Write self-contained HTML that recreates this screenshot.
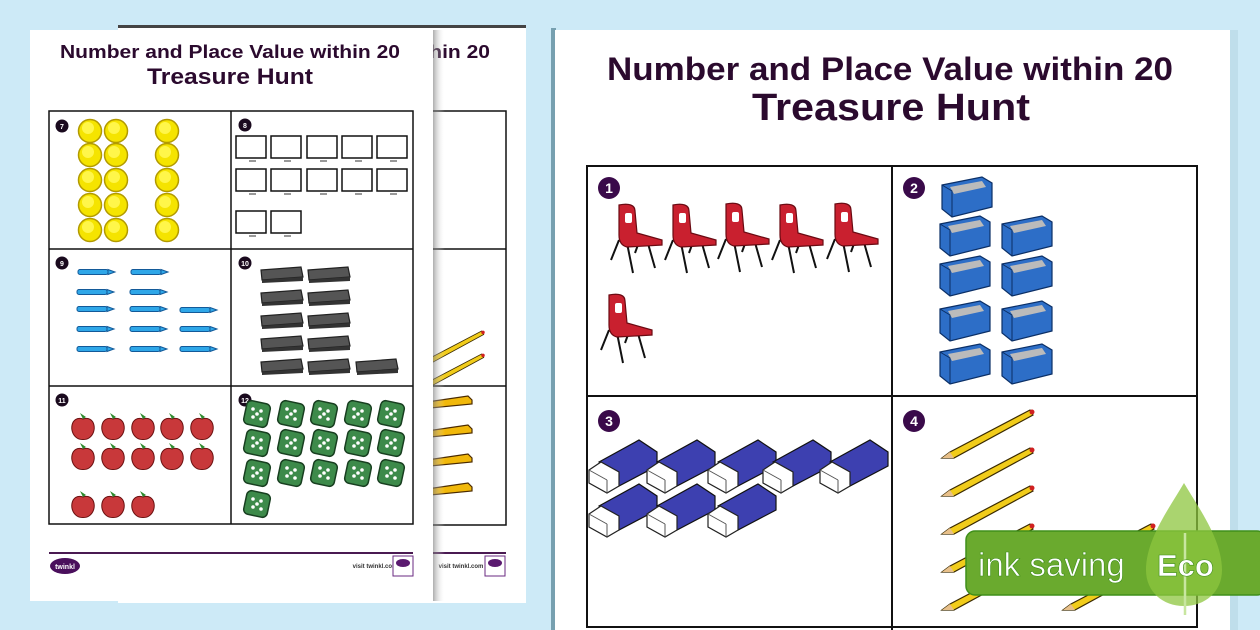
<!DOCTYPE html>
<html><head><meta charset="utf-8"><style>
html,body{margin:0;padding:0;background:#cdeaf7;}
svg{display:block}
text{font-family:"Liberation Sans",sans-serif;font-weight:bold}
</style></head><body>
<svg width="1260" height="630" viewBox="0 0 1260 630" xmlns="http://www.w3.org/2000/svg">
<defs>
<linearGradient id="sh" x1="0" x2="1"><stop offset="0" stop-color="#777" stop-opacity=".6"/><stop offset="1" stop-color="#fff" stop-opacity="0"/></linearGradient>
<g id="coin"><circle r="11.5" fill="#f5e400" stroke="#b29a00" stroke-width="1.5"/><circle cx="-2" cy="-3" r="6" fill="#fff64a"/></g>
<g id="scr"><rect x="0" y="0" width="30" height="22" fill="#fff" stroke="#111" stroke-width="1.5"/><line x1="13" y1="25" x2="20" y2="25" stroke="#333"/></g>
<g id="cray"><rect x="0" y="-2.5" width="30" height="5" rx="2" fill="#2fa7e8" stroke="#135a99" stroke-width="1"/><path d="M30,-2.5 L37,0 L30,2.5Z" fill="#2fa7e8" stroke="#135a99" stroke-width="1"/></g>
<g id="blk"><path d="M0,3 L40,0 L42,10 L1,13Z" fill="#555" stroke="#222" stroke-width="1.2"/><path d="M1,13 L42,10 L42,14 L1,16Z" fill="#333"/></g>
<g id="apl"><path d="M0,-9 C-12,-13 -15,4 -6,10 C-3,12 3,12 6,10 C15,4 12,-13 0,-9Z" fill="#c8383a" stroke="#6b1010" stroke-width="1"/><path d="M0,-9 L-3,-15 L3,-11Z" fill="#2e8b2e"/></g>
<g id="die"><rect x="-12" y="-12" width="24" height="24" rx="5" fill="#3d8a4a" stroke="#183f20" stroke-width="1.5" transform="rotate(12)"/><g fill="#fff"><circle cx="-4" cy="-5" r="1.8"/><circle cx="4" cy="-3" r="1.8"/><circle cx="0" cy="0" r="1.8"/><circle cx="-4" cy="3" r="1.8"/><circle cx="4" cy="5" r="1.8"/></g></g>
<g id="chair" stroke="#111" stroke-width="2" fill="none"><path d="M-6,55 L2,35 M10,38 L16,68 M30,35 L38,63 M22,37 L18,48"/><path d="M2,0 C12,-2 18,0 18,6 L20,28 L45,35 L45,40 L10,42 Q2,40 2,30Z" fill="#c9202f" stroke="#6a0a12" stroke-width="1.2"/><rect x="8" y="8" width="7" height="10" rx="2" fill="#fff" stroke="none"/></g>
<g id="shp"><path d="M0,8 L40,0 L50,6 L50,30 L10,40 L0,32Z" fill="#2d6ec7" stroke="#0b2f66" stroke-width="1.2"/><path d="M8,10 L40,4 L44,10 L12,17Z" fill="#bbb"/><path d="M0,8 L10,14 L10,40" stroke="#0b2f66" fill="none"/></g>
<g id="ers"><path d="M10,22 L50,0 L68,12 L68,26 L30,46 L20,36Z" fill="#3d40b0" stroke="#111" stroke-width="1.2"/><path d="M0,30 L12,22 L30,32 L30,46 L18,53 L0,43Z" fill="#fff" stroke="#222" stroke-width="1.2"/><line x1="0" y1="30" x2="18" y2="40" stroke="#555"/><line x1="18" y1="40" x2="18" y2="53" stroke="#555"/></g>
<g id="pen"><path d="M0,18 L8,12 L88,-30 L91,-25 L12,18Z" fill="#f1cc1a" stroke="#3a2a00" stroke-width="1.2"/><path d="M0,18 L8,12 L12,18Z" fill="#e8c08a"/><circle cx="90" cy="-28" r="2.5" fill="#d02020"/></g>
<g id="pen2"><path d="M0,3 L48,-4 L52,0 L52,4 L0,9Z" fill="#f1b80a" stroke="#4a2a00" stroke-width="1.2"/></g>
</defs>

<!-- back page -->
<rect x="118" y="25" width="408" height="578" fill="#fff"/>
<rect x="118" y="25" width="408" height="3" fill="#444"/>
<text x="320" y="58" font-size="18.5" fill="#2b0a2e" text-anchor="middle" textLength="340" lengthAdjust="spacingAndGlyphs">Number and Place Value within 20</text>
<rect x="120" y="111" width="386" height="414" fill="none" stroke="#111" stroke-width="1.5"/>
<line x1="120" y1="249" x2="506" y2="249" stroke="#111" stroke-width="1.5"/>
<line x1="120" y1="386" x2="506" y2="386" stroke="#111" stroke-width="1.5"/>
<use href="#pen" transform="translate(420,352) scale(.7)"/>
<use href="#pen" transform="translate(420,375) scale(.7)"/>
<use href="#pen2" transform="translate(420,400)"/>
<use href="#pen2" transform="translate(420,429)"/>
<use href="#pen2" transform="translate(420,458)"/>
<use href="#pen2" transform="translate(420,487)"/>
<line x1="120" y1="553" x2="506" y2="553" stroke="#4a1a52" stroke-width="2"/>
<text x="461" y="568" font-size="6" fill="#333" text-anchor="middle">visit twinkl.com</text>
<rect x="485" y="556" width="20" height="20" fill="#fff" stroke="#6a2a80"/><ellipse cx="495" cy="563" rx="7" ry="4" fill="#5b1a70"/>

<!-- front left page -->
<rect x="30" y="30" width="403" height="571" fill="#fff"/>
<rect x="433" y="30" width="12" height="571" fill="url(#sh)"/>
<text x="230" y="58" font-size="18.5" fill="#2b0a2e" text-anchor="middle" textLength="340" lengthAdjust="spacingAndGlyphs">Number and Place Value within 20</text>
<text x="230" y="84" font-size="22" fill="#2b0a2e" text-anchor="middle" textLength="166" lengthAdjust="spacingAndGlyphs">Treasure Hunt</text>
<rect x="49" y="111" width="364" height="413" fill="#fff" stroke="#111" stroke-width="1.5"/>
<line x1="231" y1="111" x2="231" y2="524" stroke="#111" stroke-width="1.5"/>
<line x1="49" y1="249" x2="413" y2="249" stroke="#111" stroke-width="1.5"/>
<line x1="49" y1="386" x2="413" y2="386" stroke="#111" stroke-width="1.5"/>
<g fill="#1a0a1e"><circle cx="62" cy="126" r="6.5"/><circle cx="245" cy="125" r="6.5"/><circle cx="62" cy="263" r="6.5"/><circle cx="245" cy="263" r="6.5"/><circle cx="62" cy="400" r="6.5"/><circle cx="245" cy="400" r="6.5"/></g>
<g font-size="7" fill="#fff" text-anchor="middle"><text x="62" y="129">7</text><text x="245" y="128">8</text><text x="62" y="266">9</text><text x="245" y="266">10</text><text x="62" y="403">11</text><text x="245" y="403">12</text></g>
<g>
<use href="#coin" x="90" y="131"/><use href="#coin" x="116" y="131"/><use href="#coin" x="167" y="131"/>
<use href="#coin" x="90" y="155"/><use href="#coin" x="116" y="155"/><use href="#coin" x="167" y="155"/>
<use href="#coin" x="90" y="180"/><use href="#coin" x="116" y="180"/><use href="#coin" x="167" y="180"/>
<use href="#coin" x="90" y="205"/><use href="#coin" x="116" y="205"/><use href="#coin" x="167" y="205"/>
<use href="#coin" x="90" y="230"/><use href="#coin" x="116" y="230"/><use href="#coin" x="167" y="230"/>
</g>
<g>
<use href="#scr" x="236" y="136"/><use href="#scr" x="271" y="136"/><use href="#scr" x="307" y="136"/><use href="#scr" x="342" y="136"/><use href="#scr" x="377" y="136"/>
<use href="#scr" x="236" y="169"/><use href="#scr" x="271" y="169"/><use href="#scr" x="307" y="169"/><use href="#scr" x="342" y="169"/><use href="#scr" x="377" y="169"/>
<use href="#scr" x="236" y="211"/><use href="#scr" x="271" y="211"/>
</g>
<g>
<use href="#cray" x="78" y="272"/><use href="#cray" x="131" y="272"/>
<use href="#cray" x="77" y="292"/><use href="#cray" x="130" y="292"/>
<use href="#cray" x="77" y="309"/><use href="#cray" x="130" y="309"/><use href="#cray" x="180" y="310"/>
<use href="#cray" x="77" y="329"/><use href="#cray" x="130" y="329"/><use href="#cray" x="180" y="329"/>
<use href="#cray" x="77" y="349"/><use href="#cray" x="130" y="349"/><use href="#cray" x="180" y="349"/>
</g>
<g>
<use href="#blk" x="261" y="267"/><use href="#blk" x="308" y="267"/>
<use href="#blk" x="261" y="290"/><use href="#blk" x="308" y="290"/>
<use href="#blk" x="261" y="313"/><use href="#blk" x="308" y="313"/>
<use href="#blk" x="261" y="336"/><use href="#blk" x="308" y="336"/>
<use href="#blk" x="261" y="359"/><use href="#blk" x="308" y="359"/><use href="#blk" x="356" y="359"/>
</g>
<g>
<use href="#apl" x="83" y="428"/><use href="#apl" x="113" y="428"/><use href="#apl" x="143" y="428"/><use href="#apl" x="172" y="428"/><use href="#apl" x="202" y="428"/>
<use href="#apl" x="83" y="458"/><use href="#apl" x="113" y="458"/><use href="#apl" x="143" y="458"/><use href="#apl" x="172" y="458"/><use href="#apl" x="202" y="458"/>
<use href="#apl" x="83" y="506"/><use href="#apl" x="113" y="506"/><use href="#apl" x="143" y="506"/>
</g>
<g>
<use href="#die" x="257" y="414"/><use href="#die" x="291" y="414"/><use href="#die" x="324" y="414"/><use href="#die" x="358" y="414"/><use href="#die" x="391" y="414"/>
<use href="#die" x="257" y="443"/><use href="#die" x="291" y="443"/><use href="#die" x="324" y="443"/><use href="#die" x="358" y="443"/><use href="#die" x="391" y="443"/>
<use href="#die" x="257" y="473"/><use href="#die" x="291" y="473"/><use href="#die" x="324" y="473"/><use href="#die" x="358" y="473"/><use href="#die" x="391" y="473"/>
<use href="#die" x="257" y="504"/>
</g>
<line x1="49" y1="553" x2="413" y2="553" stroke="#4a1a52" stroke-width="2"/>
<ellipse cx="65" cy="566" rx="15" ry="8" fill="#4a0f5c"/>
<text x="65" y="569" font-size="7" fill="#fff" text-anchor="middle">twinkl</text>
<text x="375" y="568" font-size="6" fill="#333" text-anchor="middle">visit twinkl.com</text>
<rect x="393" y="556" width="20" height="20" fill="#fff" stroke="#6a2a80"/><ellipse cx="403" cy="563" rx="7" ry="4" fill="#5b1a70"/>

<!-- right page -->
<rect x="551" y="28" width="5" height="602" fill="#3d6e80" opacity=".6"/>
<rect x="555" y="30" width="675" height="600" fill="#fff"/>
<rect x="1230" y="30" width="8" height="600" fill="#b9d8e6" opacity=".7"/>
<text x="890" y="80" font-size="32" fill="#2b0a2e" text-anchor="middle" textLength="566" lengthAdjust="spacingAndGlyphs">Number and Place Value within 20</text>
<text x="891" y="120" font-size="38" fill="#2b0a2e" text-anchor="middle" textLength="278" lengthAdjust="spacingAndGlyphs">Treasure Hunt</text>
<rect x="587" y="166" width="610" height="461" fill="none" stroke="#111" stroke-width="2"/>
<line x1="892" y1="166" x2="892" y2="630" stroke="#111" stroke-width="2"/>
<line x1="587" y1="396" x2="1197" y2="396" stroke="#111" stroke-width="2"/>
<g fill="#3a0a4a"><circle cx="609" cy="188" r="11"/><circle cx="914" cy="188" r="11"/><circle cx="609" cy="421" r="11"/><circle cx="914" cy="421" r="11"/></g>
<g font-size="14" fill="#fff" text-anchor="middle"><text x="609" y="193">1</text><text x="914" y="193">2</text><text x="609" y="426">3</text><text x="914" y="426">4</text></g>
<g>
<use href="#chair" x="617" y="205"/><use href="#chair" x="671" y="205"/><use href="#chair" x="724" y="204"/><use href="#chair" x="778" y="205"/><use href="#chair" x="833" y="204"/>
<use href="#chair" x="607" y="295"/>
</g>
<g>
<use href="#shp" x="942" y="177"/>
<use href="#shp" x="940" y="216"/><use href="#shp" x="1002" y="216"/>
<use href="#shp" x="940" y="256"/><use href="#shp" x="1002" y="256"/>
<use href="#shp" x="940" y="301"/><use href="#shp" x="1002" y="301"/>
<use href="#shp" x="940" y="344"/><use href="#shp" x="1002" y="344"/>
</g>
<g>
<use href="#ers" x="589" y="440"/><use href="#ers" x="647" y="440"/><use href="#ers" x="708" y="440"/><use href="#ers" x="763" y="440"/><use href="#ers" x="820" y="440"/>
<use href="#ers" x="589" y="484"/><use href="#ers" x="647" y="484"/><use href="#ers" x="708" y="484"/>
</g>
<g>
<use href="#pen" x="942" y="440"/><use href="#pen" x="942" y="478"/><use href="#pen" x="942" y="516"/><use href="#pen" x="942" y="554"/><use href="#pen" x="942" y="592"/>
<use href="#pen" x="1063" y="554"/><use href="#pen" x="1063" y="592"/>
</g>

<!-- eco badge -->
<rect x="966" y="531" width="300" height="64" rx="9" fill="#6aaa2e" stroke="#3f8f1a" stroke-width="1.5"/>
<path d="M1184,483 C1200,510 1222,540 1222,570 C1222,592 1205,606 1184,606 C1163,606 1146,592 1146,570 C1146,540 1168,510 1184,483Z" fill="#8dc63f" opacity=".75"/>
<line x1="1185" y1="533" x2="1185" y2="615" stroke="#c8e6a0" stroke-width="2.5"/>
<text x="978" y="576" font-size="33" style="font-weight:normal" fill="#fff" stroke="#3f8f1a" stroke-width=".6">ink saving</text>
<text x="1157" y="576" font-size="31" fill="#fff" stroke="#3f8f1a" stroke-width=".6">Eco</text>
</svg>
</body></html>
